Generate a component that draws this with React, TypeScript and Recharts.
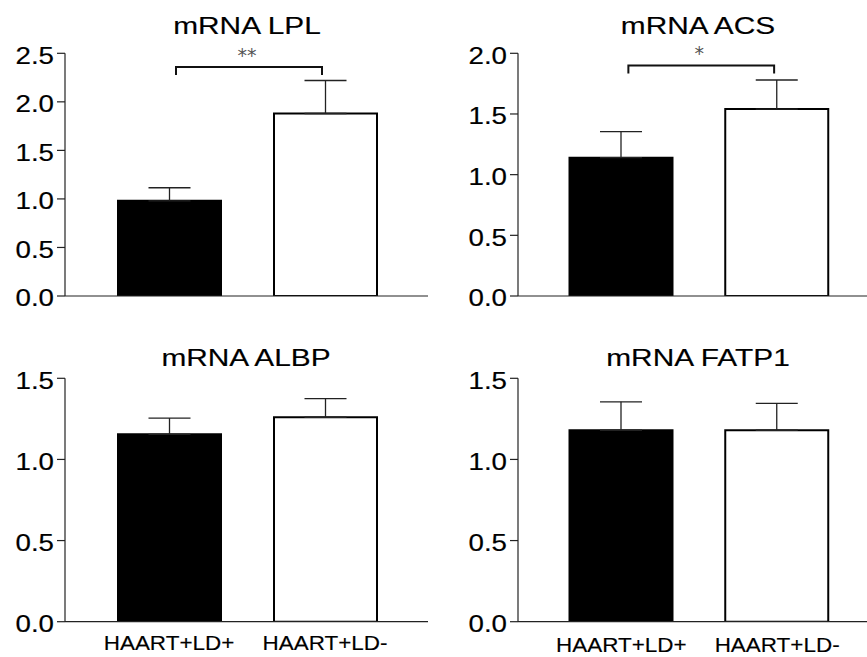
import React from 'react';
import { BarChart, Bar, XAxis, YAxis, ErrorBar, Cell, ReferenceLine } from 'recharts';

// Groups and per-gene mean expression with SEM (upper whisker only)
const groups = ['HAART+LD+', 'HAART+LD-'];
const groupFill = ['#000000', '#ffffff'];

const lplMean = [0.98, 1.88];
const lplSem = [0.135, 0.34];
const acsMean = [1.14, 1.54];
const acsSem = [0.215, 0.24];
const albpMean = [1.155, 1.26];
const albpSem = [0.1, 0.115];
const fatp1Mean = [1.18, 1.18];
const fatp1Sem = [0.175, 0.165];

const ticksLpl = [0, 0.5, 1.0, 1.5, 2.0, 2.5];
const ticksAcs = [0, 0.5, 1.0, 1.5, 2.0];
const ticksLow = [0, 0.5, 1.0, 1.5];

const FONT = '"Liberation Sans", Arial, Helvetica, sans-serif';

type Frame = {
  left: number;
  top: number;
  width: number;
  height: number;
  marginTop: number;
  marginRight: number;
  yAxisWidth: number;
  xAxisHeight: number;
  padLeft: number;
  padRight: number;
  labelGap: number;
  showLabels: boolean;
  titleX: number;
  titleBaseline: number;
};

type PanelProps = {
  title: string;
  mean: number[];
  sem: number[];
  ticks: number[];
  sig?: { stars: string; y: number };
  frame: Frame;
};

// Wide-set numeric tick labels on the value axis
const YTick = (props: any) => {
  const { x, y, payload } = props;
  return (
    <text
      transform={`translate(${x},${y}) scale(1.13,1)`}
      textAnchor="end"
      dy="0.42em"
      fontSize={24.5}
      fontFamily={FONT}
      fill="#000"
      stroke="#000"
      strokeWidth={0.2}
    >
      {Number(payload.value).toFixed(1)}
    </text>
  );
};

// Group names under the bars
const XTick = (props: any) => {
  const { x, y, payload } = props;
  return (
    <text
      transform={`translate(${x},${y}) scale(1.07,1)`}
      textAnchor="middle"
      dy="0.71em"
      fontSize={21}
      fontFamily={FONT}
      fill="#000"
      stroke="#000"
      strokeWidth={0.15}
    >
      {payload.value}
    </text>
  );
};

// Significance bracket: short drops at both ends of a horizontal bar
const bracket = (props: any) => {
  const { x1, y1, x2 } = props;
  const drop = 8;
  const d = `M${x1 + 7},${y1 + drop} V${y1} H${x2 - 3} V${y1 + drop}`;
  return <path d={d} fill="none" stroke="#111" strokeWidth={2} />;
};

function Panel({ title, mean, sem, ticks, sig, frame }: PanelProps) {
  const data = groups.map((g, i) => ({ group: g, mean: mean[i], err: [0, sem[i]] }));
  const yMax = ticks[ticks.length - 1];
  const titleFont = 23.5;
  return (
    <div style={{ position: 'absolute', left: frame.left, top: frame.top, width: frame.width, height: frame.height }}>
      <div
        style={{
          position: 'absolute',
          left: frame.titleX - 150,
          width: 300,
          top: frame.titleBaseline - 0.8465 * titleFont,
          height: titleFont,
          lineHeight: `${titleFont}px`,
          fontSize: titleFont,
          fontFamily: FONT,
          textAlign: 'center',
          color: '#000',
          whiteSpace: 'nowrap',
          transform: 'scaleX(1.27)',
          transformOrigin: 'center',
          WebkitTextStroke: '0.15px #000',
        }}
      >
        {title}
      </div>
      <BarChart
        width={frame.width}
        height={frame.height}
        data={data}
        margin={{ top: frame.marginTop, right: frame.marginRight, bottom: 0, left: 0 }}
        style={{ position: 'absolute', left: 0, top: 0 }}
      >
        <XAxis
          dataKey="group"
          type="category"
          height={frame.xAxisHeight}
          padding={{ left: frame.padLeft, right: frame.padRight }}
          axisLine={{ stroke: '#222', strokeWidth: 1.2 }}
          tickLine={false}
          tickSize={0}
          tickMargin={frame.labelGap}
          tick={frame.showLabels ? <XTick /> : false}
          interval={0}
        />
        <YAxis
          type="number"
          domain={[0, yMax]}
          ticks={ticks}
          width={frame.yAxisWidth}
          allowDataOverflow
          axisLine={{ stroke: '#222', strokeWidth: 1.2 }}
          tickLine={{ stroke: '#222', strokeWidth: 1.2 }}
          tickSize={8}
          tickMargin={3}
          tick={<YTick />}
        />
        <Bar dataKey="mean" barSize={103} isAnimationActive={false}>
          {data.map((_, i) => (
            <Cell key={i} fill={groupFill[i]} stroke="#000" strokeWidth={2} />
          ))}
          <ErrorBar dataKey="err" direction="y" width={21} stroke="#222" strokeWidth={1.3} />
        </Bar>
        {sig && (
          <ReferenceLine
            segment={[
              { x: groups[0], y: sig.y },
              { x: groups[1], y: sig.y },
            ]}
            shape={bracket}
            label={{ value: sig.stars, position: 'top', offset: 5, fill: '#555', fontSize: 19, fontFamily: '"DejaVu Sans", sans-serif' }}
          />
        )}
      </BarChart>
    </div>
  );
}

const topLeft: Frame = {
  left: 0, top: 0, width: 433, height: 330, marginTop: 53.3, marginRight: 5,
  yAxisWidth: 65, xAxisHeight: 34, padLeft: 26, padRight: 25, labelGap: 13,
  showLabels: false, titleX: 246.5, titleBaseline: 35,
};
const topRight: Frame = {
  left: 433, top: 0, width: 434, height: 330, marginTop: 53.3, marginRight: 0,
  yAxisWidth: 85, xAxisHeight: 34, padLeft: 25.5, padRight: 12, labelGap: 13,
  showLabels: false, titleX: 265, titleBaseline: 35,
};
const bottomLeft: Frame = {
  left: 0, top: 330, width: 433, height: 327, marginTop: 48.3, marginRight: 5,
  yAxisWidth: 65, xAxisHeight: 35.3, padLeft: 26, padRight: 25, labelGap: 13.3,
  showLabels: true, titleX: 245.8, titleBaseline: 37.3,
};
const bottomRight: Frame = {
  left: 433, top: 330, width: 434, height: 327, marginTop: 48.3, marginRight: 0,
  yAxisWidth: 85, xAxisHeight: 35.3, padLeft: 25.5, padRight: 12, labelGap: 15,
  showLabels: true, titleX: 264.5, titleBaseline: 36.7,
};

export default function App() {
  return (
    <div style={{ position: 'absolute', left: 0, top: 0, width: 867, height: 657, background: '#fff', overflow: 'hidden' }}>
      <Panel title="mRNA LPL" mean={lplMean} sem={lplSem} ticks={ticksLpl} sig={{ stars: '**', y: 2.36 }} frame={topLeft} />
      <Panel title="mRNA ACS" mean={acsMean} sem={acsSem} ticks={ticksAcs} sig={{ stars: '*', y: 1.9 }} frame={topRight} />
      <Panel title="mRNA ALBP" mean={albpMean} sem={albpSem} ticks={ticksLow} frame={bottomLeft} />
      <Panel title="mRNA FATP1" mean={fatp1Mean} sem={fatp1Sem} ticks={ticksLow} frame={bottomRight} />
    </div>
  );
}
